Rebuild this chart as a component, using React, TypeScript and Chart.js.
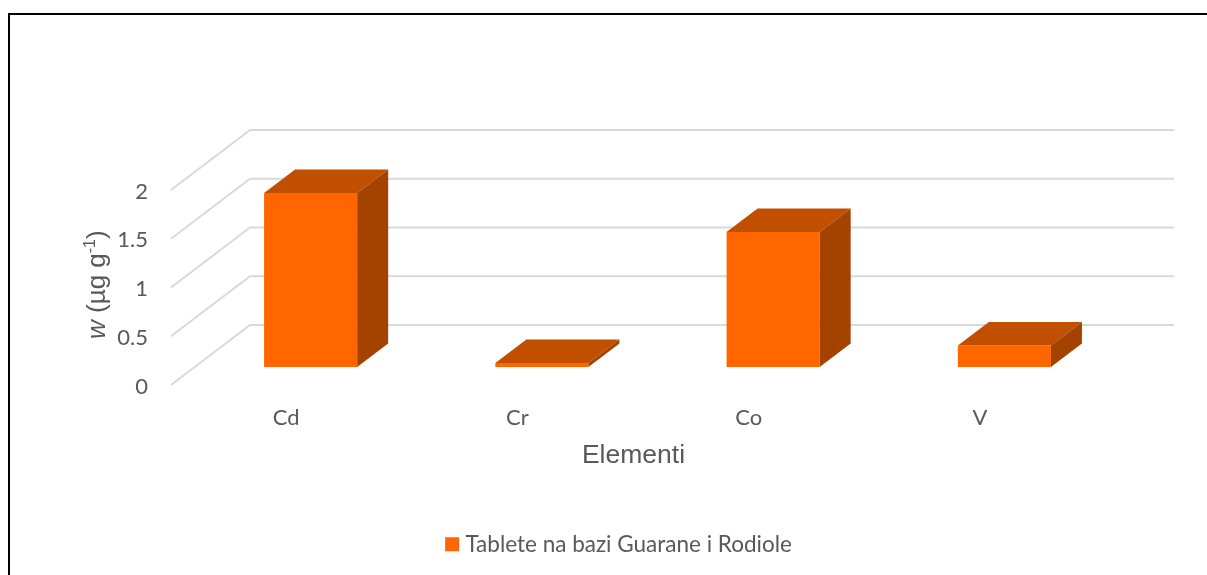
import React, { useEffect, useRef } from "react";
import { Chart, registerables } from "chart.js";

Chart.register(...registerables);

const categories = ["Cd", "Cr", "Co", "V"];
const seriesLabel = "Tablete na bazi Guarane i Rodiole";
const seriesValues = [1.785, 0.04, 1.385, 0.22];
const yMin = 0;
const yMax = 2;
const yStep = 0.5;
const xTitle = "Elementi";
const yTitleParts = ["w", " (µg g", "-1", ")"];

const W = 1207;
const H = 575;
const GREY = "#595959";
const GRID = "#d9d9d9";
const TICK_FONT = "Lato";
const TITLE_FONT = "'Liberation Sans'";

const depthPlugin = {
  id: "depth",
  afterLayout(chart: any) {
    // tick labels sit well left of the plot: widen the scale's clip box
    chart.scales.y.left = 100;
  },
  beforeDatasetsDraw(chart: any) {
    const { ctx, chartArea, scales } = chart;
    const y = scales.y;
    ctx.save();
    ctx.strokeStyle = GRID;
    ctx.lineWidth = 2;
    y.ticks.forEach((t: any) => {
      const p = y.getPixelForValue(t.value);
      ctx.beginPath();
      ctx.moveTo(chartArea.left - 24, p + 18);
      ctx.lineTo(chartArea.left + 55, p - 42);
      ctx.lineTo(chartArea.right + 54, p - 42);
      ctx.stroke();
    });
    ctx.restore();
  },
  afterDatasetsDraw(chart: any) {
    const { ctx } = chart;
    const dx = 31;
    const dy = 23.5;
    ctx.save();
    chart.getDatasetMeta(0).data.forEach((b: any) => {
      const x0 = b.x - b.width / 2;
      const x1 = b.x + b.width / 2;
      const top = b.y;
      const base = b.base;
      ctx.fillStyle = "#c04f00";
      ctx.beginPath();
      ctx.moveTo(x0, top);
      ctx.lineTo(x0 + dx, top - dy);
      ctx.lineTo(x1 + dx, top - dy);
      ctx.lineTo(x1, top);
      ctx.closePath();
      ctx.fill();
      ctx.fillStyle = "#a44300";
      ctx.beginPath();
      ctx.moveTo(x1, top);
      ctx.lineTo(x1 + dx, top - dy);
      ctx.lineTo(x1 + dx, base - dy);
      ctx.lineTo(x1, base);
      ctx.closePath();
      ctx.fill();
    });
    ctx.restore();
  },
  afterDraw(chart: any) {
    const { ctx } = chart;
    ctx.save();
    ctx.fillStyle = GREY;
    ctx.textBaseline = "alphabetic";
    ctx.textAlign = "center";
    ctx.font = `26.5px ${TITLE_FONT}`;
    ctx.fillText(xTitle, 633.5, 463);

    ctx.translate(105, 339);
    ctx.rotate(-Math.PI / 2);
    ctx.textAlign = "left";
    let cx = 0;
    const fonts = [
      `italic 26px ${TITLE_FONT}`,
      `26px ${TITLE_FONT}`,
      `16px ${TITLE_FONT}`,
      `26px ${TITLE_FONT}`,
    ];
    const rises = [0, 0, 10, 0];
    yTitleParts.forEach((part, i) => {
      ctx.font = fonts[i];
      ctx.fillText(part, cx, -rises[i]);
      cx += ctx.measureText(part).width;
    });
    ctx.restore();
  },
};

export default function App() {
  const ref = useRef<HTMLCanvasElement>(null);
  useEffect(() => {
    const chart = new Chart(ref.current as HTMLCanvasElement, {
      type: "bar",
      plugins: [depthPlugin],
      data: {
        labels: categories,
        datasets: [
          {
            label: seriesLabel,
            data: seriesValues,
            backgroundColor: "#ff6600",
            borderWidth: 0,
            barPercentage: 0.4026,
            categoryPercentage: 1,
          },
        ],
      },
      options: {
        responsive: false,
        animation: false,
        layout: { padding: { top: 172, right: 87, left: 122, bottom: 9.5 } },
        plugins: {
          tooltip: { enabled: false },
          legend: {
            position: "bottom",
            labels: {
              usePointStyle: true,
              pointStyle: "rect",
              boxWidth: 4,
              boxHeight: 14,
              padding: 0,
              color: GREY,
              font: { family: TICK_FONT, size: 22.5 },
            },
          },
        },
        scales: {
          x: {
            grid: { display: false },
            border: { display: false },
            afterFit(s: any) {
              s.height = 166;
            },
            ticks: {
              color: GREY,
              font: { family: TICK_FONT, size: 22 },
              padding: 30,
              labelOffset: -24.5,
              autoSkip: false,
              maxRotation: 0,
            },
          },
          y: {
            min: yMin,
            max: yMax,
            grid: { display: false, drawTicks: false },
            border: { display: false },
            afterFit(s: any) {
              s.width = 73;
            },
            ticks: {
              stepSize: yStep,
              color: GREY,
              font: { family: TICK_FONT, size: 22 },
              padding: 47,
              labelOffset: 19.5,
              callback: (v: any) => String(v),
            },
          },
        },
      },
    } as any);
    return () => chart.destroy();
  }, []);
  return (
    <div style={{ position: "fixed", left: 0, top: 0, width: W, height: H, overflow: "hidden", background: "#fff" }}>
      <canvas ref={ref} width={W} height={H} style={{ display: "block", width: W, height: H }} />
      <div
        style={{
          position: "absolute",
          left: 8,
          top: 13,
          right: 0,
          bottom: 0,
          borderTop: "2px solid #000",
          borderLeft: "2px solid #000",
          pointerEvents: "none",
        }}
      />
    </div>
  );
}
